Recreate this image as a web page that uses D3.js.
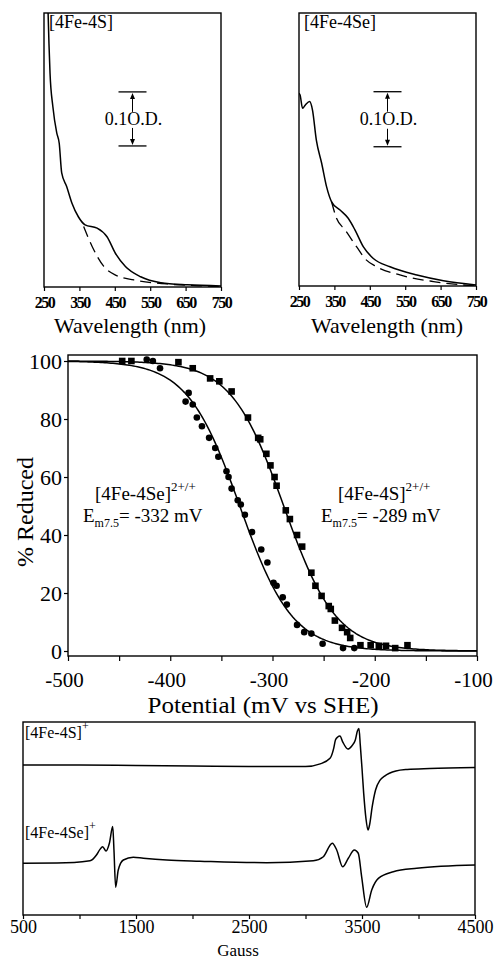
<!DOCTYPE html>
<html>
<head>
<meta charset="utf-8">
<title>[4Fe-4S] / [4Fe-4Se] spectra, redox titration and EPR</title>
<style>
  body { margin: 0; background: #fff; }
  svg { display: block; }
  svg text { font-family: "Liberation Serif", "DejaVu Serif", serif !important; fill: #000; }
</style>
</head>
<body>
<svg width="501" height="961" font-family="Liberation Serif, DejaVu Serif, serif"></svg>
<script src="https://cdn.jsdelivr.net/npm/d3@7"></script>
<script>
// ---- data ----
// UV-vis, [4Fe-4S]  (absorbance, O.D.)
var sWave   = [261, 264, 267, 275, 286, 293, 300, 314, 329, 347, 366, 400, 428, 452, 480, 523, 580, 655, 750];
var sAbs    = [0.52, 0.451, 0.396, 0.334, 0.285, 0.266, 0.211, 0.186, 0.155, 0.130, 0.115, 0.109, 0.093, 0.062, 0.038, 0.019, 0.008, 0.004, 0.002];
var sWaveOx = [362, 386, 419, 452, 504, 599, 693, 750];
var sAbsOx  = [0.112, 0.075, 0.038, 0.022, 0.013, 0.0056, 0.002, 0.0006];
// UV-vis, [4Fe-4Se]
var seWave   = [250, 253, 260, 268, 280, 288, 299, 314, 328, 342, 366, 389, 408, 432, 460, 507, 583, 658, 750];
var seAbs    = [0.35, 0.347, 0.323, 0.329, 0.335, 0.32, 0.265, 0.223, 0.180, 0.153, 0.138, 0.123, 0.102, 0.071, 0.050, 0.035, 0.020, 0.0097, 0.002];
var seWaveOx = [342, 356, 380, 413, 436, 469, 535, 630, 750];
var seAbsOx  = [0.153, 0.123, 0.102, 0.071, 0.050, 0.035, 0.020, 0.008, 0.0];
var waveTicks = [250, 350, 450, 550, 650, 750];

// redox titration, % reduced vs potential (mV vs SHE)
var sPot  = [-447, -438, -392, -378, -361, -352, -340, -324, -314, -312, -306, -302, -298, -296, -287, -283, -276, -271, -262, -258, -252, -245, -243, -239, -232, -227, -224, -214, -204, -196, -189, -180, -168];
var sRed  = [100, 100, 99.6, 97.5, 94, 93, 89.5, 80.5, 73.5, 73, 68, 64, 60, 57, 48.5, 45.5, 40, 36, 27, 22.5, 19, 15.5, 14.5, 10.5, 8, 6.5, 4.5, 2, 2, 1.8, 1.8, 1, 2];
var sePot = [-423, -417, -410, -382, -385, -378, -374, -369, -362, -356, -353, -345, -343, -340, -334, -331, -327, -320, -311, -305, -299, -296, -290, -286, -276, -269, -262, -251, -231, -220];
var seRed = [100.5, 100, 97.5, 89, 86, 85, 80.5, 77.5, 73.5, 70, 67, 62, 60, 56, 52, 50.5, 47, 41, 35, 30.5, 23.5, 22.5, 18.5, 16, 9, 6.5, 6, 2.5, 1, 1];
var midpoints = [-289, -332];   // Em7.5 for [4Fe-4S], [4Fe-4Se]
var potTicks = [-500, -450, -400, -350, -300, -250, -200, -150, -100];
var redTicks = [0, 20, 40, 60, 80, 100];

// EPR (arbitrary units), field in gauss
var eprSField = [500, 1000, 1500, 2000, 2500, 3000, 3130, 3217, 3250, 3265, 3285, 3305, 3330, 3375, 3410, 3440, 3460, 3473, 3485, 3500, 3515, 3535, 3553, 3568, 3590, 3620, 3660, 3700, 3800, 3900, 4100, 4500];
var eprS      = [77.7, 77.7, 77.5, 77.2, 77.0, 76.9, 78.3, 81.2, 86.5, 90.7, 92.2, 92.7, 89.6, 86.0, 87.6, 90.5, 95.5, 96.6, 88, 76, 63, 50, 44, 47, 56, 64.8, 69.9, 72.0, 74.6, 75.4, 75.9, 76.4];
var eprSeField = [500, 800, 1093, 1150, 1181, 1205, 1235, 1265, 1294, 1305, 1320, 1343, 1388, 1476, 1565, 1772, 2066, 2657, 3069, 3158, 3237, 3276, 3329, 3379, 3432, 3467, 3497, 3541, 3586, 3645, 3777, 3984, 4500];
var eprSe      = [26.8, 26.9, 28.1, 31.1, 34.0, 35.4, 33.2, 37.3, 45.8, 33.7, 14.4, 23.3, 28.5, 29.9, 29.4, 28.5, 27.9, 27.1, 28.1, 30.2, 37.2, 33.7, 25.0, 29.4, 33.7, 32.0, 19.8, 4.0, 13.0, 19.0, 22.4, 24.2, 25.9];
var gaussTicks = [500, 1000, 1500, 2000, 2500, 3000, 3500, 4000, 4500];

var svg = d3.select("svg");
var serif = "Liberation Serif, DejaVu Serif, serif";
var zip = function(a, b) { return a.map(function(v, i) { return [v, b[i]]; }); };

function frame(x0, x1, y0, y1) {
  svg.append("rect")
    .attr("x", x0).attr("y", y0)
    .attr("width", x1 - x0).attr("height", y1 - y0)
    .attr("fill", "none").attr("stroke", "#000").attr("stroke-width", 1.4);
}

function styleAxis(g, size) {
  g.attr("font-family", serif);
  g.select(".domain").remove();
  g.selectAll("line").attr("stroke", "#000").attr("stroke-width", 1.2);
  g.selectAll("text").attr("font-size", size).attr("font-family", serif);
}

// ---- 1. UV-vis panels ----
function spectrum(opt) {
  var x = d3.scaleLinear().domain([250, 750]).range([opt.x0, opt.x1]);
  var y = d3.scaleLinear().domain([0, opt.top]).range([opt.y1, opt.y0]);
  var clipId = "clip" + opt.id;
  svg.append("clipPath").attr("id", clipId).append("rect")
    .attr("x", opt.x0).attr("y", opt.y0)
    .attr("width", opt.x1 - opt.x0).attr("height", opt.y1 - opt.y0);

  var line = d3.line()
    .x(function(d) { return x(d[0]); })
    .y(function(d) { return y(d[1]); })
    .curve(d3.curveMonotoneX);

  var g = svg.append("g").attr("clip-path", "url(#" + clipId + ")");
  g.append("path").attr("d", line(zip(opt.wave, opt.abs)))
    .attr("fill", "none").attr("stroke", "#000").attr("stroke-width", 1.5);
  g.append("path").attr("d", line(zip(opt.waveOx, opt.absOx)))
    .attr("fill", "none").attr("stroke", "#000").attr("stroke-width", 1.3)
    .attr("stroke-dasharray", "11,6");

  frame(opt.x0, opt.x1, opt.y0, opt.y1);

  var ax = svg.append("g")
    .attr("transform", "translate(0," + opt.y1 + ")")
    .call(d3.axisBottom(x).tickValues(waveTicks).tickSize(4).tickPadding(6));
  styleAxis(ax, 16);
  ax.selectAll("text").attr("letter-spacing", -1.5).attr("font-weight", "bold");

  svg.append("text")
    .attr("x", opt.titleX).attr("y", 333)
    .attr("text-anchor", "middle")
    .attr("font-size", 21)
    .attr("textLength", 152).attr("lengthAdjust", "spacingAndGlyphs")
    .text("Wavelength (nm)");

  svg.append("text")
    .attr("x", opt.x0 + 5).attr("y", 28)
    .attr("font-size", 18)
    .text(opt.label);

  // 0.1 O.D. scale bar
  var bx = x(500), hw = 14;
  var yt = y(opt.barLow + 0.1), yb = y(opt.barLow);
  [yt, yb].forEach(function(yy) {
    svg.append("line").attr("x1", bx - hw).attr("x2", bx + hw)
      .attr("y1", yy).attr("y2", yy).attr("stroke", "#000").attr("stroke-width", 1.3);
  });
  svg.append("line").attr("x1", bx).attr("x2", bx).attr("y1", yt + 3).attr("y2", yt + 20)
    .attr("stroke", "#000").attr("stroke-width", 1);
  svg.append("line").attr("x1", bx).attr("x2", bx).attr("y1", yb - 18).attr("y2", yb - 3)
    .attr("stroke", "#000").attr("stroke-width", 1);
  svg.append("path").attr("d", "M" + bx + "," + (yt + 1) + "l-2.5,6h5z");
  svg.append("path").attr("d", "M" + bx + "," + (yb - 1) + "l-2.5,-6h5z");
  svg.append("text")
    .attr("x", bx + 1).attr("y", (yt + yb) / 2 + 6)
    .attr("text-anchor", "middle")
    .attr("font-size", 18)
    .text("0.1O.D.");
}

spectrum({ id: "s", x0: 44, x1: 221, y0: 13, y1: 287, top: 0.507,
  wave: sWave, abs: sAbs, waveOx: sWaveOx, absOx: sAbsOx,
  label: "[4Fe-4S]", titleX: 130, barLow: 0.261 });
spectrum({ id: "se", x0: 299, x1: 476, y0: 13, y1: 286, top: 0.496,
  wave: seWave, abs: seAbs, waveOx: seWaveOx, absOx: seAbsOx,
  label: "[4Fe-4Se]", titleX: 387, barLow: 0.253 });

// ---- 2. redox titration ----
var mx = d3.scaleLinear().domain([-500, -100]).range([68, 477]);
var my = d3.scaleLinear().domain([-1.72, 102.07]).range([656, 355]);

// Nernst (n = 1) fits through the stated midpoint potentials
var fitPot = d3.range(-500, -99, 2);
var fitLine = d3.line()
  .x(function(d) { return mx(d[0]); })
  .y(function(d) { return my(d[1]); });
midpoints.forEach(function(em) {
  var pts = fitPot.map(function(e) { return [e, 100 / (1 + Math.exp((e - em) / 25.7))]; });
  svg.append("path").attr("d", fitLine(pts))
    .attr("fill", "none").attr("stroke", "#000").attr("stroke-width", 1.5);
});

svg.append("g").selectAll("rect")
  .data(zip(sPot, sRed))
  .enter().append("rect")
  .attr("x", function(d) { return mx(d[0]) - 3.3; })
  .attr("y", function(d) { return my(d[1]) - 3.3; })
  .attr("width", 6.6).attr("height", 6.6)
  .attr("fill", "#000");

svg.append("g").selectAll("circle")
  .data(zip(sePot, seRed))
  .enter().append("circle")
  .attr("cx", function(d) { return mx(d[0]); })
  .attr("cy", function(d) { return my(d[1]); })
  .attr("r", 3.3)
  .attr("fill", "#000");

frame(68, 477, 355, 656);

var mxAxis = svg.append("g")
  .attr("transform", "translate(0,656)")
  .call(d3.axisBottom(mx).tickValues(potTicks).tickSize(5).tickPadding(11)
    .tickFormat(function(d) { return d % 100 === 0 ? d : ""; }));
styleAxis(mxAxis, 21);
mxAxis.selectAll("text").attr("dx", -4);

var myAxis = svg.append("g")
  .attr("transform", "translate(68,0)")
  .call(d3.axisLeft(my).tickValues(redTicks).tickSize(4).tickPadding(2));
styleAxis(myAxis, 22);

svg.append("text")
  .attr("x", 263).attr("y", 713)
  .attr("text-anchor", "middle")
  .attr("font-size", 23)
  .attr("textLength", 231).attr("lengthAdjust", "spacingAndGlyphs")
  .text("Potential (mV vs SHE)");

svg.append("text")
  .attr("transform", "translate(33,512) rotate(-90)")
  .attr("text-anchor", "middle")
  .attr("font-size", 24)
  .text("% Reduced");

function redoxLabel(xName, xE, name, em) {
  var t = svg.append("text").attr("x", xName).attr("y", 500).attr("font-size", 19);
  t.append("tspan").text(name);
  t.append("tspan").attr("font-size", 13).attr("dy", -9).text("2+/+");
  var e = svg.append("text").attr("x", xE).attr("y", 522).attr("font-size", 19);
  e.append("tspan").text("E");
  e.append("tspan").attr("font-size", 12).attr("dy", 5).text("m7.5");
  e.append("tspan").attr("dy", -5).text("= " + em + " mV");
}
redoxLabel(95, 83, "[4Fe-4Se]", midpoints[1]);
redoxLabel(338, 321, "[4Fe-4S]", midpoints[0]);

// ---- 3. EPR ----
var ex = d3.scaleLinear().domain([500, 4500]).range([23, 475]);
var ey = d3.scaleLinear().domain([0, 100]).range([915, 722]);
var eprLine = d3.line()
  .x(function(d) { return ex(d[0]); })
  .y(function(d) { return ey(d[1]); })
  .curve(d3.curveMonotoneX);

[zip(eprSField, eprS), zip(eprSeField, eprSe)].forEach(function(pts) {
  svg.append("path").attr("d", eprLine(pts))
    .attr("fill", "none").attr("stroke", "#000").attr("stroke-width", 1.5);
});

frame(23, 475, 722, 915);

var exAxis = svg.append("g")
  .attr("transform", "translate(0,915)")
  .call(d3.axisBottom(ex).tickValues(gaussTicks).tickSize(4).tickPadding(1)
    .tickFormat(function(d) { return (d - 500) % 1000 === 0 ? d : ""; }));
styleAxis(exAxis, 18);

svg.append("text")
  .attr("x", 238).attr("y", 956)
  .attr("text-anchor", "middle")
  .attr("font-size", 17)
  .text("Gauss");

function eprLabel(y, name) {
  var t = svg.append("text").attr("x", 25).attr("y", y).attr("font-size", 16);
  t.append("tspan").text(name);
  t.append("tspan").attr("font-size", 12).attr("dy", -8).text("+");
}
eprLabel(738, "[4Fe-4S]");
eprLabel(838, "[4Fe-4Se]");
</script>
</body>
</html>
